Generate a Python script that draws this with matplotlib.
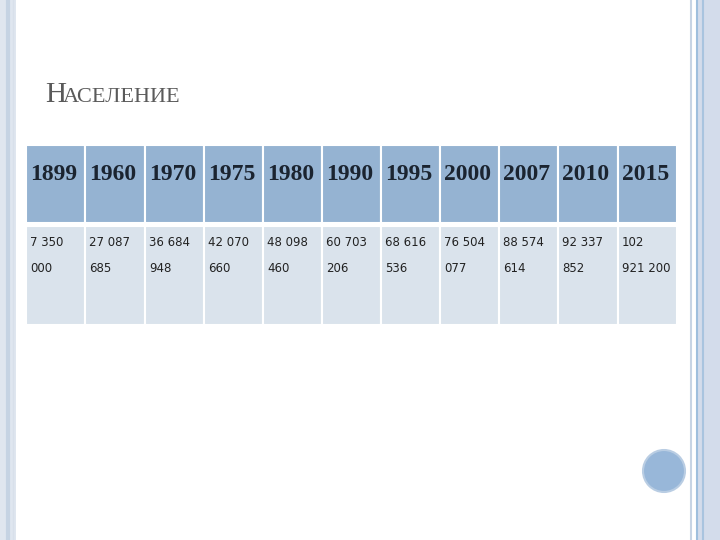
import matplotlib.pyplot as plt
from matplotlib.patches import Rectangle, Circle

years = ['1899', '1960', '1970', '1975', '1980', '1990', '1995', '2000', '2007', '2010', '2015']
population = [7350000, 27087685, 36684948, 42070660, 48098460, 60703206,
              68616536, 76504077, 88574614, 92337852, 102921200]
col_edges = [26, 85, 145, 204, 263, 322, 381, 440, 499, 558, 618, 677]


def wrap_number(val):
    groups = f'{val:,}'.replace(',', ' ').split()
    first = ' '.join(groups[:-1])
    if len(first) > 6:
        return [groups[0], ' '.join(groups[1:])]
    return [first, groups[-1]]


fig = plt.figure(figsize=(7.2, 5.4), dpi=100)
ax = fig.add_axes([0, 0, 1, 1])
ax.set_xlim(0, 720)
ax.set_ylim(540, 0)
ax.axis('off')

# slide frame
ax.add_patch(Rectangle((0, 0), 16, 540, color='#dfe6ef', lw=0))
ax.axvline(8, color='#c5d3e3', lw=3)
ax.axvline(13, color='#d8e0ea', lw=1)
ax.add_patch(Rectangle((696, 0), 24, 540, color='#d3dceb', lw=0))
ax.axvline(691, color='#c7d4e4', lw=1.5)
ax.axvline(697, color='#9fbfdd', lw=1.5)
ax.axvline(703, color='#a9c4df', lw=1.5)
ax.add_patch(Circle((664, 471), 21, facecolor='#98b7d9', edgecolor='#b9cde3', lw=1.5))

# title in small caps
ax.text(45, 102, 'Н', fontsize=21, family='Liberation Serif', color='#5a5a5a')
ax.text(63, 102, 'АСЕЛЕНИЕ', fontsize=16, family='Liberation Serif', color='#5a5a5a')

# table
for i, (yr, val) in enumerate(zip(years, population)):
    x0, x1 = col_edges[i], col_edges[i + 1]
    ax.add_patch(Rectangle((x0, 145), x1 - x0, 78, facecolor='#95b3d2', edgecolor='white', lw=1.5))
    ax.add_patch(Rectangle((x0, 226), x1 - x0, 99, facecolor='#dae3ec', edgecolor='white', lw=1.5))
    ax.text(x0 + 4, 174, yr, fontsize=17, fontweight='bold', family='Liberation Serif',
            color='#1b2430', va='center')
    for j, line in enumerate(wrap_number(val)):
        ax.text(x0 + 4, 242 + j * 26, line, fontsize=8.5, color='#222222', va='center')

fig.savefig('out.png', dpi=100)
